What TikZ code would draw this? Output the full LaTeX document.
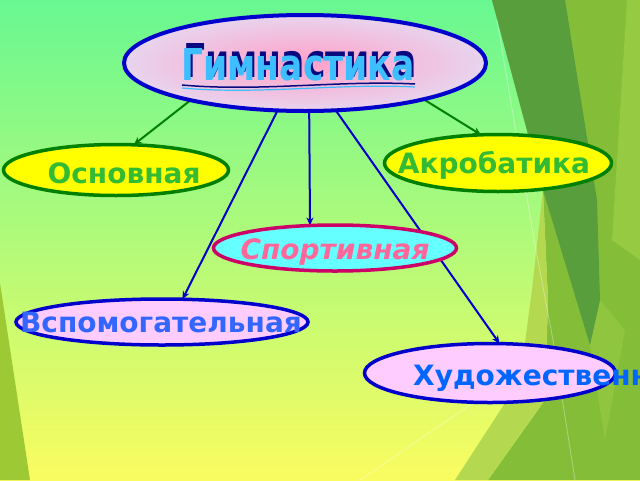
\documentclass[tikz,border=0pt]{standalone}
\usepackage{fontspec}
\usepackage{graphicx}
\setmainfont{DejaVu Sans}
\usetikzlibrary{shapes.geometric,arrows.meta}
\pgfdeclarelayer{bg}
\pgfdeclarelayer{edges}
\pgfsetlayers{bg,edges,main}
\definecolor{bgtop}{RGB}{104,248,146}
\definecolor{bgmid}{RGB}{192,248,116}
\definecolor{bgbot}{RGB}{250,252,96}
\definecolor{fdark}{RGB}{88,158,60}
\definecolor{fmed}{RGB}{132,189,56}
\definecolor{flight}{RGB}{150,202,66}
\definecolor{fyel}{RGB}{180,217,80}
\definecolor{fleft}{RGB}{157,201,52}
\definecolor{titleblue}{RGB}{0,0,204}
\definecolor{ovgreen}{RGB}{0,128,0}
\definecolor{txgreen}{RGB}{51,187,51}
\definecolor{ovyellow}{RGB}{255,255,0}
\definecolor{ovpink}{RGB}{255,204,255}
\definecolor{ovcyan}{RGB}{102,255,255}
\definecolor{ovcrimson}{RGB}{204,0,102}
\definecolor{txpink}{RGB}{255,102,153}
\definecolor{txblue}{RGB}{51,102,255}
\definecolor{txblue2}{RGB}{0,102,255}
\definecolor{arrowgreen}{RGB}{0,128,0}
\definecolor{arrowblue}{RGB}{0,0,204}
\definecolor{wordfill}{RGB}{60,190,255}
\definecolor{wordshadow}{RGB}{10,10,128}
\definecolor{glowpink}{RGB}{255,160,200}
\definecolor{glowedge}{RGB}{232,212,238}
\begin{document}
\begin{tikzpicture}[x=1pt,y=-1pt,
  oval/.style={ellipse, draw, line width=3.5pt, inner sep=0pt, outer sep=0pt},
  lbl/.style={font=\bfseries\fontsize{28}{32}\selectfont, inner sep=0pt, anchor=base},
  garrow/.style={draw=arrowgreen, line width=2pt, -{Stealth[length=8pt,width=7pt]}},
  barrow/.style={draw=arrowblue, line width=2pt, -{Stealth[length=8pt,width=7pt]}},
  faint/.style={draw=white, opacity=0.35, line width=0.8pt}]
\useasboundingbox (0,0) rectangle (640,480);
% background
\begin{pgfonlayer}{bg}
\shade[top color=bgtop, middle color=bgmid, bottom color=bgbot] (0,0) rectangle (640,480);
\fill[fmed] (492,0) -- (640,0) -- (640,480) -- (488,480) -- (545,400) -- (548,300) -- (543,190) -- cycle;
\fill[fyel] (543,190) -- (548,300) -- (545,400) -- (488,480) -- (455,480) -- (520,380) -- (532,290) -- cycle;
\fill[flight] (627,0) -- (640,0) -- (640,260) -- (612,240) -- cycle;
\fill[flight, opacity=0.7] (600,300) -- (625,330) -- (605,440) -- (590,345) -- cycle;
\fill[fdark] (492,0) -- (565,0) -- (597,200) -- (600,300) -- (590,345) -- (543,190) -- cycle;
\fill[fleft] (0,283) -- (30,480) -- (0,480) -- cycle;
\draw[faint] (497,20) -- (535,245) -- (553,340) -- (575,480);
\draw[faint] (360,480) -- (470,405);
\end{pgfonlayer}
% nodes
\node[oval, draw=titleblue, line width=4pt, minimum width=362pt, minimum height=96pt,
      inner color=glowpink, outer color=glowedge] (title) at (305,63) {};
\node[inner sep=0pt, text=wordshadow] (ttls) at (300,61) {\resizebox{233pt}{34pt}{\bfseries Гимнастика}};
\node[inner sep=0pt, text=wordfill] (ttl) at (298,65) {\resizebox{233pt}{32pt}{\bfseries Гимнастика}};
\draw[wordshadow, line width=1.5pt] (182,85) .. controls (260,92) and (340,80) .. (415,84);
\draw[wordfill, line width=1.2pt] (182,88) .. controls (260,95) and (340,83) .. (415,87);

\node[oval, draw=ovgreen, fill=ovyellow, minimum width=225pt, minimum height=51pt] (osn) at (116,170) {};
\node[lbl, text=txgreen] (osnt) at (124,183) {Основная};

\node[oval, draw=ovgreen, fill=ovyellow, minimum width=227pt, minimum height=57pt] (akro) at (498,163) {};
\node[lbl, text=txgreen] (akrot) at (494,173) {Акробатика};

\node[oval, draw=ovcrimson, fill=ovcyan, minimum width=243pt, minimum height=46pt] (sport) at (335,248) {};
\node[lbl, font=\bfseries\itshape\fontsize{28}{32}\selectfont, text=txpink] (sportt) at (335,259) {Спортивная};

\node[oval, draw=titleblue, fill=ovpink, minimum width=292pt, minimum height=46pt] (vsp) at (162,322) {};
\node[lbl, text=txblue] (vspt) at (161,332) {Вспомогательная};

\node[oval, draw=titleblue, fill=ovpink, minimum width=251pt, minimum height=59pt] (hud) at (490,373) {};
\node[lbl, text=txblue2, anchor=base west] (hudt) at (413,385) {Художественная};

% connectors
\begin{pgfonlayer}{edges}
\draw[garrow] (title.198) -- (osn.55);
\draw[garrow] (title.343) -- (akro.121);
\draw[barrow] (title.240) -- (vsp.48);
\draw[barrow] (title.275) -- (sport.138);
\draw[barrow] (title.303) -- (hud.72);
\end{pgfonlayer}
\end{tikzpicture}
\end{document}
